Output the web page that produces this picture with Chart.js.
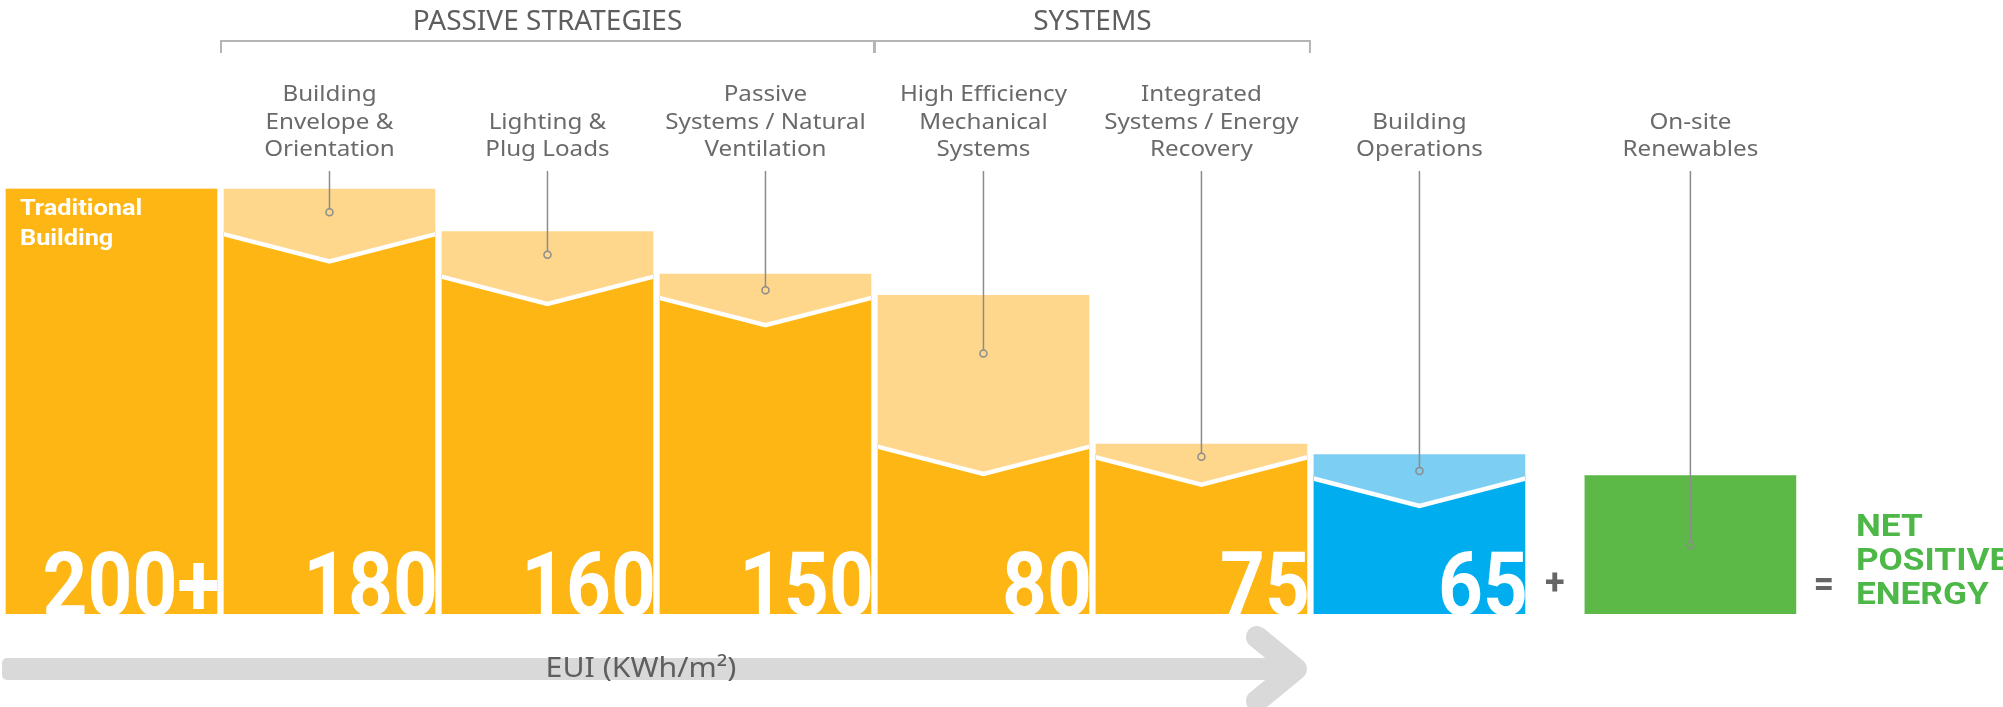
<!DOCTYPE html>
<html>
<head>
<meta charset="utf-8">
<title>Path to Net Positive Energy</title>
<script src="https://cdn.jsdelivr.net/npm/chart.js@4.4.1/dist/chart.umd.min.js"></script>
<style>
  html, body { margin: 0; padding: 0; background: #fff; }
  #wrap { position: relative; width: 2003px; height: 707px; }
</style>
</head>
<body>
<div id="wrap"><canvas id="euiChart"></canvas></div>
<script>
// EUI (kWh/m2) from a traditional building down to net positive energy
var categories = [
  'Traditional Building',
  'Building Envelope & Orientation',
  'Lighting & Plug Loads',
  'Passive Systems / Natural Ventilation',
  'High Efficiency Mechanical Systems',
  'Integrated Systems / Energy Recovery',
  'Building Operations',
  'On-site Renewables'
];
var labelLines = [
  ['Traditional', 'Building'],
  ['Building', 'Envelope &', 'Orientation'],
  ['Lighting &', 'Plug Loads'],
  ['Passive', 'Systems / Natural', 'Ventilation'],
  ['High Efficiency', 'Mechanical', 'Systems'],
  ['Integrated', 'Systems / Energy', 'Recovery'],
  ['Building', 'Operations'],
  ['On-site', 'Renewables']
];
var euiValues = [200, 180, 160, 150, 80, 75, 65, 65];
// a step shows what it saved against the step before it
var showsSaving = [false, true, true, true, true, true, true, false];
// text after the printed value, null = no printed value
var valueSuffix = ['+', '', '', '', '', '', '', null];
var groups = [
  { name: 'PASSIVE STRATEGIES', first: 1, last: 3 },
  { name: 'SYSTEMS', first: 4, last: 5 }
];
var axisTitle = 'EUI (KWh/m\u00B2)';
var resultLines = ['NET', 'POSITIVE', 'ENERGY'];

var ORANGE = '#FDB614', ORANGE_LIGHT = '#FED68C';
var BLUE = '#00AEEF', BLUE_LIGHT = '#7CCEF3';
var GREEN = '#5CB947';
var barColors = [ORANGE, ORANGE, ORANGE, ORANGE, ORANGE, ORANGE, BLUE, GREEN];
var savingColors = [ORANGE_LIGHT, ORANGE_LIGHT, ORANGE_LIGHT, ORANGE_LIGHT, ORANGE_LIGHT, ORANGE_LIGHT, BLUE_LIGHT, GREEN];

var savings = euiValues.map(function (v, i) {
  return showsSaving[i] ? euiValues[i - 1] - v : 0;
});

// renewables sit a little apart, after the "+"
var RENEWABLE_SHIFT = 0.243;
function slot(i) { return i === categories.length - 1 ? i + RENEWABLE_SHIFT : i; }

var NOTCH = 28;
var TEXT_GREY = '#6a6a6a';

// fillText with a horizontal stretch (sx < 1 narrows, > 1 widens)
function stretchedText(ctx, text, x, y, sx) {
  ctx.save();
  ctx.translate(x, y);
  ctx.scale(sx, 1);
  ctx.fillText(text, 0, 0);
  ctx.restore();
}

var decorPlugin = {
  id: 'stepDecor',
  afterDatasetsDraw: function (chart) {
    var ctx = chart.ctx;
    var yScale = chart.scales.y;
    var area = chart.chartArea;
    var bars = chart.getDatasetMeta(0).data;
    var lefts = [], rights = [], marks = [];

    bars.forEach(function (b, i) {
      var left = b.x - b.width / 2, right = b.x + b.width / 2;
      lefts.push(left); rights.push(right);
      var yv = yScale.getPixelForValue(euiValues[i]);
      var top = yv;

      if (showsSaving[i]) {
        top = yScale.getPixelForValue(euiValues[i - 1]);
        ctx.save();
        ctx.beginPath();
        ctx.rect(left, area.top, b.width, area.bottom - area.top);
        ctx.clip();
        // light wedge cut into the top of the remaining bar
        ctx.fillStyle = savingColors[i];
        ctx.beginPath();
        ctx.moveTo(left - 3, yv - 2);
        ctx.lineTo(right + 3, yv - 2);
        ctx.lineTo(right + 3, yv);
        ctx.lineTo(b.x, yv + NOTCH);
        ctx.lineTo(left - 3, yv);
        ctx.closePath();
        ctx.fill();
        ctx.strokeStyle = '#fff';
        ctx.lineWidth = 4.5;
        ctx.beginPath();
        ctx.moveTo(left - 3, yv + 2);
        ctx.lineTo(b.x, yv + NOTCH + 2);
        ctx.lineTo(right + 3, yv + 2);
        ctx.stroke();
        ctx.restore();
        marks.push(top + (yv + NOTCH - top) * 0.33);
      } else {
        marks.push((yv + b.base) / 2);
      }

      // big value at the foot of the bar
      if (valueSuffix[i] !== null) {
        ctx.save();
        ctx.beginPath();
        ctx.rect(left, yv, b.width, b.base - yv);
        ctx.clip();
        ctx.fillStyle = '#fff';
        ctx.font = 'bold 89px Roboto';
        ctx.textAlign = 'right';
        ctx.textBaseline = 'alphabetic';
        stretchedText(ctx, euiValues[i] + valueSuffix[i], right + 3, b.base + 1, 0.88);
        ctx.restore();
      }
    });

    // first bar carries its name inside
    ctx.save();
    ctx.fillStyle = '#fff';
    ctx.font = 'bold 22px Roboto';
    ctx.textAlign = 'left';
    ctx.textBaseline = 'middle';
    labelLines[0].forEach(function (t, k) {
      stretchedText(ctx, t, lefts[0] + 14, 209 + k * 30, 1.15);
    });
    ctx.restore();

    // names above the other bars, with leader lines
    ctx.save();
    ctx.font = '22px "Noto Sans"';
    ctx.fillStyle = TEXT_GREY;
    ctx.textAlign = 'center';
    ctx.textBaseline = 'middle';
    for (var i = 1; i < bars.length; i++) {
      var lines = labelLines[i];
      lines.forEach(function (t, k) {
        stretchedText(ctx, t, bars[i].x, 150 - (lines.length - 1 - k) * 27.5, 1.1);
      });
      ctx.strokeStyle = '#8c8c8c';
      ctx.lineWidth = 1.5;
      ctx.beginPath();
      ctx.moveTo(bars[i].x, 171);
      ctx.lineTo(bars[i].x, marks[i] - 3.5);
      ctx.stroke();
      ctx.beginPath();
      ctx.arc(bars[i].x, marks[i], 3.5, 0, Math.PI * 2);
      ctx.stroke();
    }
    ctx.restore();

    // group headings with brackets
    ctx.save();
    groups.forEach(function (g) {
      var x0 = lefts[g.first] - 3, x1 = rights[g.last] + 3;
      ctx.strokeStyle = '#b5b5b5';
      ctx.lineWidth = 2;
      ctx.beginPath();
      ctx.moveTo(x0, 53); ctx.lineTo(x0, 41); ctx.lineTo(x1, 41); ctx.lineTo(x1, 53);
      ctx.stroke();
      ctx.fillStyle = '#5e5e5e';
      ctx.font = '28px "Noto Sans"';
      ctx.textAlign = 'center';
      ctx.textBaseline = 'middle';
      stretchedText(ctx, g.name, (x0 + x1) / 2, 22, 1.0);
    });
    ctx.restore();

    // "+" renewables "=" net positive
    var last = bars.length - 1;
    ctx.save();
    ctx.fillStyle = '#666';
    ctx.font = 'bold 36px Roboto';
    ctx.textAlign = 'center';
    ctx.textBaseline = 'middle';
    ctx.fillText('+', (rights[last - 1] + lefts[last]) / 2, 585);
    ctx.fillText('=', rights[last] + 28, 587);
    ctx.fillStyle = '#4DB848';
    ctx.font = 'bold 32px Roboto';
    ctx.textAlign = 'left';
    resultLines.forEach(function (t, k) {
      stretchedText(ctx, t, rights[last] + 60, 528 + k * 34, 1.1);
    });
    ctx.restore();

    // EUI arrow under the reduction steps
    var tip = rights[5];
    ctx.save();
    ctx.fillStyle = '#d9d9d9';
    ctx.strokeStyle = '#d9d9d9';
    ctx.beginPath();
    ctx.roundRect(2, 658, tip - 20, 22, 5);
    ctx.fill();
    ctx.lineWidth = 22;
    ctx.lineCap = 'round';
    ctx.lineJoin = 'round';
    ctx.beginPath();
    ctx.moveTo(tip - 50, 637);
    ctx.lineTo(tip - 11, 669);
    ctx.lineTo(tip - 50, 701);
    ctx.stroke();
    ctx.fillStyle = '#5e5e5e';
    ctx.font = '27px "Noto Sans"';
    ctx.textAlign = 'center';
    ctx.textBaseline = 'middle';
    stretchedText(ctx, axisTitle, 641, 669, 1.12);
    ctx.restore();
  }
};

new Chart(document.getElementById('euiChart'), {
  type: 'bar',
  data: {
    datasets: [
      {
        label: 'EUI',
        data: euiValues.map(function (v, i) { return { x: slot(i), y: v }; }),
        backgroundColor: barColors
      },
      {
        label: 'Saved',
        data: savings.map(function (v, i) { return { x: slot(i), y: v }; }),
        backgroundColor: savingColors
      }
    ]
  },
  options: {
    responsive: true,
    maintainAspectRatio: false,
    animation: false,
    layout: { padding: { left: 2.5, right: 0, top: 19, bottom: 93 } },
    datasets: { bar: { barThickness: 211, borderWidth: 0 } },
    plugins: { legend: { display: false }, tooltip: { enabled: false } },
    scales: {
      x: { type: 'linear', offset: false, min: -0.5, max: 8.677, stacked: true, display: false, grid: { offset: false } },
      y: { min: 0, max: 280, stacked: true, display: false }
    }
  },
  plugins: [decorPlugin]
});
</script>
</body>
</html>
